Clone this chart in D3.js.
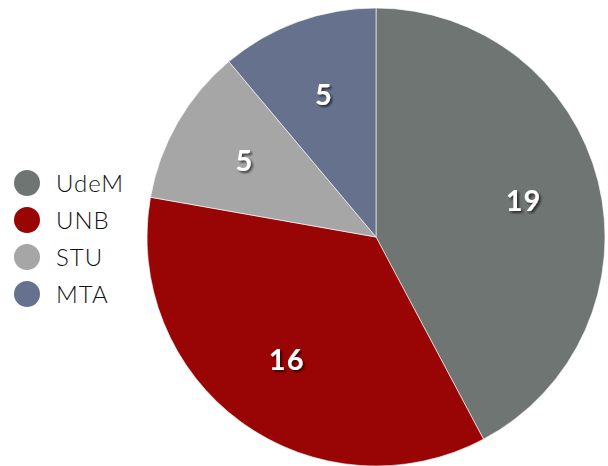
<!DOCTYPE html>
<html>
<head>
<meta charset="utf-8">
<script src="https://cdn.jsdelivr.net/npm/d3@7"></script>
<style>
  body { margin: 0; background: #fff; }
  svg { display: block; font-family: Lato, "Noto Sans", sans-serif; }
</style>
</head>
<body>
<div id="chart"></div>
<script>
// chart data
var categories = ["UdeM", "UNB", "STU", "MTA"];
var values = [19, 16, 5, 5];
var colours = ["#6f7572", "#990505", "#a6a6a6", "#66728d"];

var width = 608,
    height = 466,
    radius = 229;

var svg = d3.select("#chart")
  .append("svg")
    .attr("width", width)
    .attr("height", height);

var defs = svg.append("defs");
var shadow = defs.append("filter").attr("id", "shadow")
    .attr("x", "-50%").attr("y", "-50%").attr("width", "200%").attr("height", "200%");
shadow.append("feDropShadow")
    .attr("dx", 2).attr("dy", 2).attr("stdDeviation", 1.2)
    .attr("flood-color", "#000").attr("flood-opacity", 0.6);

var g = svg.append("g")
    .attr("transform", "translate(376,237)");

var pie = d3.pie().sort(null).value(function(d) { return d; });
var arcs = pie(values);

var arc = d3.arc().innerRadius(0).outerRadius(radius);
var labelArc = d3.arc().innerRadius(152).outerRadius(152);

g.selectAll("path.slice")
  .data(arcs)
  .enter()
  .append("path")
    .attr("class", "slice")
    .attr("d", arc)
    .attr("fill", function(d, i) { return colours[i]; })
    .attr("stroke", "rgba(255,255,255,0.6)")
    .attr("stroke-width", 1);

g.selectAll("text.val")
  .data(arcs)
  .enter()
  .append("text")
    .attr("class", "val")
    .attr("transform", function(d) { return "translate(" + labelArc.centroid(d) + ")"; })
    .attr("text-anchor", "middle")
    .attr("dy", "0.36em")
    .attr("fill", "#fff")
    .attr("font-size", 29)
    .attr("font-weight", 700)
    .attr("letter-spacing", 1)
    .attr("filter", "url(#shadow)")
    .text(function(d) { return d.data; });

// legend
var legendY = d3.scalePoint().domain(categories).range([183, 294]);

var legend = svg.selectAll("g.legend")
  .data(categories)
  .enter()
  .append("g")
    .attr("class", "legend")
    .attr("transform", function(d) { return "translate(27," + legendY(d) + ")"; });

legend.append("circle")
    .attr("r", 13)
    .attr("fill", function(d, i) { return colours[i]; });

legend.append("text")
    .attr("x", 29)
    .attr("dy", "0.36em")
    .attr("font-size", 24)
    .attr("font-weight", 300)
    .attr("letter-spacing", 1)
    .attr("fill", "#111")
    .text(function(d) { return d; });
</script>
</body>
</html>
